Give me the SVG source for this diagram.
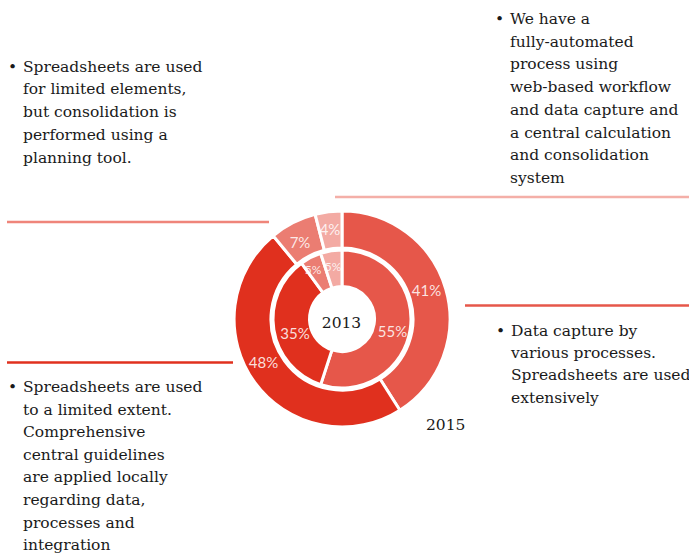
<svg xmlns="http://www.w3.org/2000/svg" width="689" height="554" viewBox="0 0 689 554">
<style>
.seg{stroke:#fff;stroke-width:3;stroke-linejoin:miter}
.c1{fill:#E6574A}.c2{fill:#E0301E}.c3{fill:#EB7D72}.c4{fill:#F3AAA3}
.pct{font-family:Lato,"Open Sans",sans-serif;font-size:15px;fill:#fff;fill-opacity:0.85;text-anchor:middle}
.sm{font-size:12px}
.txt{font-family:"DejaVu Serif",serif;font-size:15.5px;fill:#1a1a1a}
.yr{font-family:"DejaVu Serif",serif;font-size:15.5px;fill:#1a1a1a}
</style>
<rect width="689" height="554" fill="#fff"/>
<g id="connectors">
<line x1="7" y1="222" x2="269" y2="222" stroke="#EF857A" stroke-width="2.5"/>
<line x1="335" y1="197" x2="689" y2="197" stroke="#F4AFA8" stroke-width="2.5"/>
<line x1="465" y1="305.5" x2="689" y2="305.5" stroke="#E6574A" stroke-width="2.5"/>
<line x1="7" y1="362.5" x2="233" y2="362.5" stroke="#E0301E" stroke-width="2.5"/>
</g>
<g id="outer-ring">
<path class="seg c1" d="M342,211 A108,108 0 0 1 399.87,410.18 L380.04,378.95 A71,71 0 0 0 342,248 Z"/>
<path class="seg c2" d="M399.87,410.18 A108,108 0 0 1 273.16,235.79 L296.74,264.29 A71,71 0 0 0 380.04,378.95 Z"/>
<path class="seg c3" d="M273.16,235.79 A108,108 0 0 1 315.14,214.39 L324.34,250.23 A71,71 0 0 0 296.74,264.29 Z"/>
<path class="seg c4" d="M315.14,214.39 A108,108 0 0 1 342,211 L342,248 A71,71 0 0 0 324.34,250.23 Z"/>
</g>
<g id="inner-ring">
<path class="seg c1" d="M342,250 A69,69 0 1 1 320.68,384.63 L331.96,349.91 A32.5,32.5 0 1 0 342,286.5 Z"/>
<path class="seg c2" d="M320.68,384.63 A69,69 0 0 1 301.44,263.18 L322.90,292.71 A32.5,32.5 0 0 0 331.96,349.91 Z"/>
<path class="seg c3" d="M301.44,263.18 A69,69 0 0 1 320.68,253.37 L331.96,288.09 A32.5,32.5 0 0 0 322.90,292.71 Z"/>
<path class="seg c4" d="M320.68,253.37 A69,69 0 0 1 342,250 L342,286.5 A32.5,32.5 0 0 0 331.96,288.09 Z"/>
</g>
<g id="labels">
<text class="pct" x="426.5" y="296">41%</text>
<text class="pct" x="392.5" y="337">55%</text>
<text class="pct" x="263.5" y="367.5">48%</text>
<text class="pct" x="295" y="339">35%</text>
<text class="pct" x="300" y="248">7%</text>
<text class="pct" x="330" y="235">4%</text>
<text class="pct sm" x="313" y="273.5">5%</text>
<text class="pct sm" x="333" y="271">5%</text>
<text class="yr" x="341.5" y="327.5" text-anchor="middle">2013</text>
<text class="yr" x="426" y="429.5">2015</text>
</g>
<g id="note-top-left">
<text class="txt" x="8" y="71.5">•</text>
<text class="txt" y="71.5"><tspan x="23">Spreadsheets are used</tspan><tspan x="23" dy="22.8">for limited elements,</tspan><tspan x="23" dy="22.8">but consolidation is</tspan><tspan x="23" dy="22.8">performed using a</tspan><tspan x="23" dy="22.8">planning tool.</tspan></text>
</g>
<g id="note-top-right">
<text class="txt" x="495" y="24">•</text>
<text class="txt" y="24"><tspan x="510">We have a</tspan><tspan x="510" dy="22.7">fully-automated</tspan><tspan x="510" dy="22.7">process using</tspan><tspan x="510" dy="22.7">web-based workflow</tspan><tspan x="510" dy="22.7">and data capture and</tspan><tspan x="510" dy="22.7">a central calculation</tspan><tspan x="510" dy="22.7">and consolidation</tspan><tspan x="510" dy="22.7">system</tspan></text>
</g>
<g id="note-right">
<text class="txt" x="496" y="335.5">•</text>
<text class="txt" y="335.5"><tspan x="511">Data capture by</tspan><tspan x="511" dy="22.4">various processes.</tspan><tspan x="511" dy="22.4">Spreadsheets are used</tspan><tspan x="511" dy="22.4">extensively</tspan></text>
</g>
<g id="note-bottom-left">
<text class="txt" x="8" y="392">•</text>
<text class="txt" y="392"><tspan x="23">Spreadsheets are used</tspan><tspan x="23" dy="22.6">to a limited extent.</tspan><tspan x="23" dy="22.6">Comprehensive</tspan><tspan x="23" dy="22.6">central guidelines</tspan><tspan x="23" dy="22.6">are applied locally</tspan><tspan x="23" dy="22.6">regarding data,</tspan><tspan x="23" dy="22.6">processes and</tspan><tspan x="23" dy="22.6">integration</tspan></text>
</g>
</svg>
